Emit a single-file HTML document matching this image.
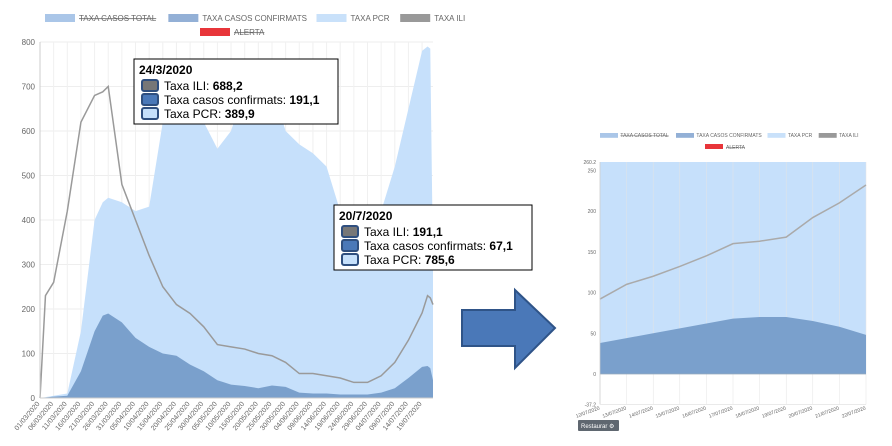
<!DOCTYPE html>
<html><head><meta charset="utf-8"><style>
body{margin:0;background:#fff;font-family:"Liberation Sans",sans-serif}
svg text{font-family:"Liberation Sans",sans-serif}
</style></head><body>
<svg id="s" width="892" height="441" viewBox="0 0 892 441">
<g id="left"></g>
<g id="right"></g>
<polygon points="462,310 515,310 515,290 555,328 515,368 515,346 462,346" fill="#4a78b8" stroke="#2f5488" stroke-width="2"/>
</svg>
<script>
// main chart data (day index from 01/03/2020)
const days=[0,2,5,10,15,20,23,25,30,35,40,45,50,55,60,65,70,75,80,85,90,95,100,105,110,115,120,125,130,135,140,142,143,144];
const pcr=[0,2,5,10,150,400,440,450,440,420,430,620,660,720,620,560,600,700,740,700,600,570,550,520,420,420,400,420,520,650,780,790,785,300];
const conf=[0,1,3,5,60,150,185,190,170,135,115,100,95,75,60,40,30,27,22,28,25,12,10,10,8,8,8,12,22,45,70,72,67,40];
const ili=[0,230,260,420,620,680,688,700,480,400,320,250,210,190,160,120,115,110,100,95,80,55,55,50,45,35,35,50,80,130,191,230,225,210];
const xLabels=["01/03/2020","06/03/2020","11/03/2020","16/03/2020","21/03/2020","26/03/2020","31/03/2020","05/04/2020","10/04/2020","15/04/2020","20/04/2020","25/04/2020","30/04/2020","05/05/2020","10/05/2020","15/05/2020","20/05/2020","25/05/2020","30/05/2020","04/06/2020","09/06/2020","14/06/2020","19/06/2020","24/06/2020","29/06/2020","04/07/2020","09/07/2020","14/07/2020","19/07/2020"];
const yTicks=[0,100,200,300,400,500,600,700,800];
// zoom chart data (days 12/07..22/07)
const zDays=[12,13,14,15,16,17,18,19,20,21,22];
const zConf=[38,44,50,56,62,68,70,70,65,58,48];
const zIli=[92,110,120,132,145,160,163,168,192,210,232];
const zLabels=["12/07/2020","13/07/2020","14/07/2020","15/07/2020","16/07/2020","17/07/2020","18/07/2020","19/07/2020","20/07/2020","21/07/2020","22/07/2020"];
const zTicks=[-37.2,0,50,100,150,200,250,260.2];

const NS="http://www.w3.org/2000/svg";
function mk(p,t,a){const e=document.createElementNS(NS,t);for(const k in a)e.setAttribute(k,a[k]);p.appendChild(e);return e;}
function legend(g,cx,y,sc,fs){
  const items=[["TAXA CASOS TOTAL","#aac6e8",true],["TAXA CASOS CONFIRMATS","#93b0d6",false],["TAXA PCR","#c9e1fa",false],["TAXA ILI","#999",false]];
  let x=cx;
  items.forEach(it=>{
    const r=mk(g,"rect",{x:x,y:y,width:30*sc,height:8*sc,fill:it[1]});
    
    
    const t=mk(g,"text",{x:x+34*sc,y:y+7*sc,"font-size":fs,fill:"#666","text-decoration":it[2]?"line-through":"none"});
    t.textContent=it[0];
    
    
    x+=34*sc+it[0].length*fs*0.62+10*sc;
  });
  return x;
}
// ---- left
(function(){
  const g=document.getElementById('left');
  const X=d=>40+d*(393/144), Y=v=>398-v*(356/800);
  legend(g,45,14,1,8);
  const a=mk(g,"rect",{x:200,y:28,width:30,height:8,fill:"#e8353a"});
  
  const at=mk(g,"text",{x:234,y:35,"font-size":8,fill:"#666","text-decoration":"line-through"});at.textContent="ALERTA";
  
  yTicks.forEach(v=>{
    mk(g,"line",{x1:40,x2:433,y1:Y(v),y2:Y(v),stroke:"#eee"});
    const t=mk(g,"text",{x:35,y:Y(v)+3,"font-size":8,fill:"#666","text-anchor":"end"});t.textContent=v;
    
  });
  xLabels.forEach((l,i)=>{
    const x=X(i*5);
    mk(g,"line",{x1:x,x2:x,y1:42,y2:398,stroke:"#f0f0f0"});
    const t=mk(g,"text",{x:x,y:404,"font-size":7,fill:"#666","text-anchor":"end",transform:`rotate(-50 ${x} 404)`});t.textContent=l;
    
  });
  const area=(vals,fill,name)=>{let d=`M${X(days[0])},${Y(0)}`;vals.forEach((v,i)=>d+=`L${X(days[i])},${Y(v)}`);d+=`L${X(days[days.length-1])},${Y(0)}Z`;
    const p=mk(g,"path",{d:d,fill:fill});};
  area(pcr,"#c6e0fb","pcr-area");area(conf,"#7aa0cc","confirmed-area");
  let d="";ili.forEach((v,i)=>d+=(i?"L":"M")+X(days[i])+","+Y(v));
  const l=mk(g,"path",{d:d,fill:"none",stroke:"#9a9a9a","stroke-width":1.5});
  mk(g,"line",{x1:40,x2:40,y1:42,y2:398,stroke:"#ccc"});mk(g,"line",{x1:40,x2:433,y1:398,y2:398,stroke:"#ccc"});
  function tip(x,y,w,title,rows,name){
    const tg=mk(g,"g",{});
    mk(tg,"rect",{x:x,y:y,width:w,height:65,fill:"#fff",stroke:"#000","stroke-width":1});
    const t=mk(tg,"text",{x:x+5,y:y+15,"font-size":12,"font-weight":"bold"});t.textContent=title;
    const cols=["#777","#4a78b8","#c6e0fb"];
    rows.forEach((r,i)=>{
      mk(tg,"rect",{x:x+8,y:y+21+i*14,width:16,height:11,rx:2,fill:cols[i],stroke:"#2f4f7f","stroke-width":2});
      const tt=mk(tg,"text",{x:x+30,y:y+31+i*14,"font-size":12});tt.innerHTML=r[0]+": <tspan font-weight='bold'>"+r[1]+"</tspan>";
    });
  }
  tip(134,59,204,"24/3/2020",[["Taxa ILI","688,2"],["Taxa casos confirmats","191,1"],["Taxa PCR","389,9"]],"tooltip-24-3");
  tip(334,205,198,"20/7/2020",[["Taxa ILI","191,1"],["Taxa casos confirmats","67,1"],["Taxa PCR","785,6"]],"tooltip-20-7");
})();
// ---- right
(function(){
  const g=document.getElementById('right');
  const X=d=>600+(d-12)*(266/10), Y=v=>374-v*(212/260.2+0.0)*1;
  legend(g,600,133,0.6,5);
  const a=mk(g,"rect",{x:705,y:144,width:18,height:5,fill:"#e8353a"});
  const at=mk(g,"text",{x:726,y:149,"font-size":5,fill:"#666","text-decoration":"line-through"});at.textContent="ALERTA";
  
  const top=Y(260.2),bot=Y(-37.2);
  mk(g,"rect",{x:600,y:top,width:266,height:Y(0)-top,fill:"#c6e0fb"});
  zTicks.forEach(v=>{const t=mk(g,"text",{x:596,y:Y(v)+2,"font-size":5,fill:"#666","text-anchor":"end"});t.textContent=v;
    });
  zLabels.forEach((l,i)=>{const x=X(zDays[i]);mk(g,"line",{x1:x,x2:x,y1:top,y2:bot,stroke:"#e4e4e4","stroke-width":0.5});
    const t=mk(g,"text",{x:x,y:bot+5,"font-size":5,fill:"#666","text-anchor":"end",transform:`rotate(-20 ${x} ${bot+5})`});t.textContent=l;
    });
  let d=`M${X(12)},${Y(0)}`;zConf.forEach((v,i)=>d+=`L${X(zDays[i])},${Y(v)}`);d+=`L${X(22)},${Y(0)}Z`;
  const c=mk(g,"path",{d:d,fill:"#7aa0cc"});
  d="";zIli.forEach((v,i)=>d+=(i?"L":"M")+X(zDays[i])+","+Y(v));
  const l=mk(g,"path",{d:d,fill:"none",stroke:"#aaa","stroke-width":1.5});
  mk(g,"line",{x1:600,x2:866,y1:Y(0),y2:Y(0),stroke:"#9ab","stroke-width":0.7});
  mk(g,"line",{x1:600,x2:600,y1:top,y2:bot,stroke:"#ccc","stroke-width":0.7});
  mk(g,"line",{x1:600,x2:866,y1:bot,y2:bot,stroke:"#ddd","stroke-width":0.7});
  const b=mk(g,"g",{});
  mk(b,"rect",{x:578,y:420,width:41,height:11,rx:1,fill:"#5f6770"});
  const bt=mk(b,"text",{x:581,y:428,"font-size":6,fill:"#fff"});bt.textContent="Restaurar ⚙";
})();
</script>
</body></html>
